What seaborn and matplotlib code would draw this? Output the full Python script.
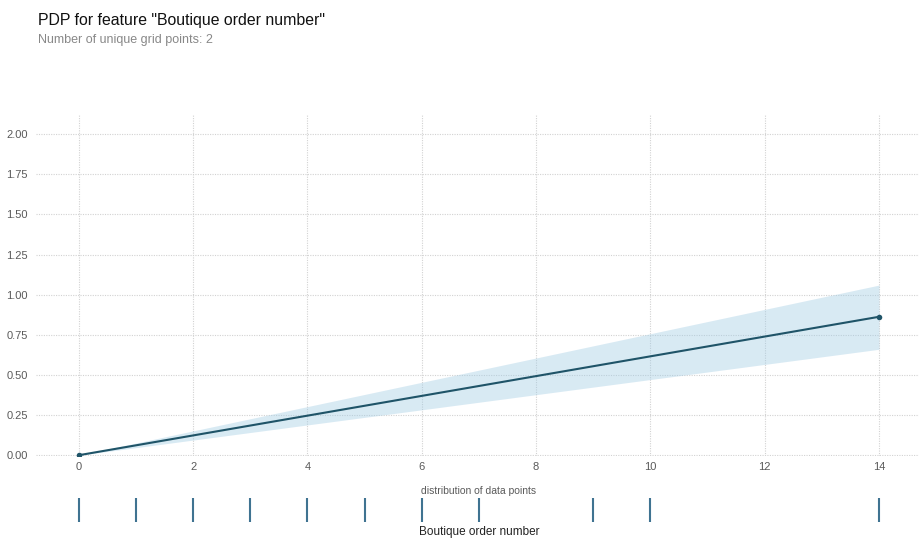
import numpy as np
import pandas as pd
import matplotlib
matplotlib.use("Agg")
import matplotlib.pyplot as plt
import seaborn as sns

# Partial dependence values at the grid points
grid_points = [0, 14]
pdp_values = [0.0, 0.8625]
pdp_upper = [0.0, 1.06]
pdp_lower = [0.0, 0.66]

# Observed feature values shown as a rug below the plot
data_points = [0, 1, 2, 3, 4, 5, 6, 7, 9, 10, 14]

x_ticks = [0, 2, 4, 6, 8, 10, 12, 14]
y_ticks = [0.0, 0.25, 0.5, 0.75, 1.0, 1.25, 1.5, 1.75, 2.0]

feature = "Boutique order number"

sns.set_theme(style="white")
plt.rcParams["font.family"] = ["Liberation Sans", "DejaVu Sans"]

W, H = 919, 538
fig = plt.figure(figsize=(W / 100, H / 100), dpi=100)

line_color = "#1F5468"
fill_color = "#9fcbe3"
grid_color = "#d2d2d2"
text_color = "#5a5a5a"

# Main PDP axes
ax = fig.add_axes([36 / W, 1 - 456 / H, (W - 36) / W, (456 - 115) / H])
df = pd.DataFrame({"x": grid_points, "y": pdp_values})
ax.fill_between(grid_points, pdp_lower, pdp_upper, color=fill_color, alpha=0.4, lw=0)
sns.lineplot(data=df, x="x", y="y", ax=ax, color=line_color, lw=1.5,
             marker="o", markersize=4, markeredgewidth=0)
ax.set_xlim(-0.75, 14.7)
ax.set_ylim(-0.005, 2.12)
ax.set_xticks(x_ticks)
ax.set_yticks(y_ticks)
ax.set_yticklabels([f"{v:.2f}" for v in y_ticks])
ax.grid(True, ls=(0, (1, 1.2)), color=grid_color, lw=0.8)
for s in ax.spines.values():
    s.set_visible(False)
ax.tick_params(axis="both", labelsize=8, colors=text_color, length=0, pad=4)
ax.tick_params(axis="y", length=3, width=0.6, color="#aaaaaa", pad=3)
ax.set_xlabel("")
ax.set_ylabel("")

# Distribution rug axes
ax2 = fig.add_axes([36 / W, 1 - 522 / H, (W - 36) / W, (522 - 498) / H])
ax2.vlines(data_points, 0, 1, color="#3f7391", lw=1.5)
ax2.set_xlim(ax.get_xlim())
ax2.set_ylim(0, 1)
ax2.set_xticks([])
ax2.set_yticks([])
for s in ax2.spines.values():
    s.set_visible(False)
ax2.set_facecolor("none")

fig.text(479 / W, 1 - 491 / H, "distribution of data points", ha="center", va="center",
         fontsize=7.5, color=text_color)
fig.text(479 / W, 1 - 532 / H, feature, ha="center", va="center",
         fontsize=8.5, color="#222222")

fig.text(38 / W, 1 - 20 / H, 'PDP for feature "Boutique order number"', ha="left",
         va="center", fontsize=11.4, color="#111111")
fig.text(38 / W, 1 - 40 / H, "Number of unique grid points: 2", ha="left",
         va="center", fontsize=9, color="#888888")

fig.savefig("out.png", dpi=100)
